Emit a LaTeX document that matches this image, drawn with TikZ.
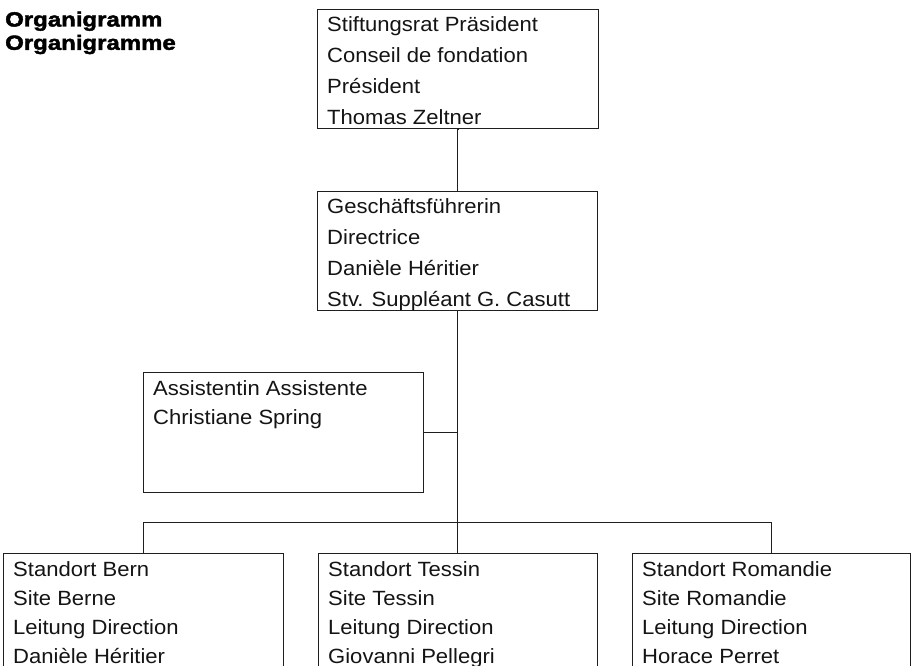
\documentclass[tikz,border=0pt]{standalone}
\usepackage{fontspec}
\setmainfont{Liberation Sans}[FakeStretch=1.07]
\newfontfamily\titlefont{Liberation Sans}[FakeStretch=1.17,BoldFeatures={FakeBold=2.2}]
\usetikzlibrary{calc}
\tikzset{
  orgbox/.style={draw=black!88, line width=1.1pt, rectangle, inner sep=0pt, anchor=north west},
  txt/.style={anchor=base west, inner sep=0pt, font=\fontsize{20.6}{22}\selectfont, text=black!92},
  ttl/.style={anchor=base west, inner sep=0pt, font=\titlefont\bfseries\fontsize{20.5}{22}\selectfont},
  conn/.style={draw=black!88, line width=1.1pt}
}
\newcommand\boxlines[3]{%
  \foreach \t [count=\i] in {#3} {%
    \node[txt] (#1-\i) at ($(#1.north west)+(10,{23+#2*(\i-1)})$) {\t};
  }%
}
\begin{document}
\begin{tikzpicture}[x=1pt,y=-1pt]
\clip (0,0) rectangle (911,666);
\fill[white] (0,0) rectangle (911,666);
% title
\node[ttl] (t1) at (5,26.5) {Organigramm};
\node[ttl] (t2) at (5,49.8) {Organigramme};
% boxes
\node[orgbox, minimum width=281, minimum height=119] (ceo) at (317,9) {};
\node[orgbox, minimum width=280, minimum height=119] (gm) at (317,191) {};
\node[orgbox, minimum width=280, minimum height=120] (asst) at (143,372) {};
\node[orgbox, minimum width=280, minimum height=160] (bern) at (3,553) {};
\node[orgbox, minimum width=279, minimum height=160] (tessin) at (318,553) {};
\node[orgbox, minimum width=278, minimum height=160] (rom) at (632,553) {};
% texts
\boxlines{ceo}{30.9}{Stiftungsrat Präsident,Conseil de fondation,Président,Thomas Zeltner}
\boxlines{gm}{30.9}{Geschäftsführerin,Directrice,Danièle Héritier,Stv. Suppléant G. Casutt}
\boxlines{asst}{29.5}{Assistentin Assistente,Christiane Spring}
\boxlines{bern}{29.3}{Standort Bern,Site Berne,Leitung Direction,Danièle Héritier}
\boxlines{tessin}{29.3}{Standort Tessin,Site Tessin,Leitung Direction,Giovanni Pellegri}
\boxlines{rom}{29.3}{Standort Romandie,Site Romandie,Leitung Direction,Horace Perret}
% connectors
\draw[conn] (ceo.south) -- (gm.south |- ceo.south) -- (gm.north);
\draw[conn] (gm.south) -- (gm.south |- tessin.north);
\draw[conn] (asst.east) -- (asst.east -| gm.south);
\draw[conn] (bern.north) -- ++(0,-30.5) -| (rom.north);
\end{tikzpicture}
\end{document}
